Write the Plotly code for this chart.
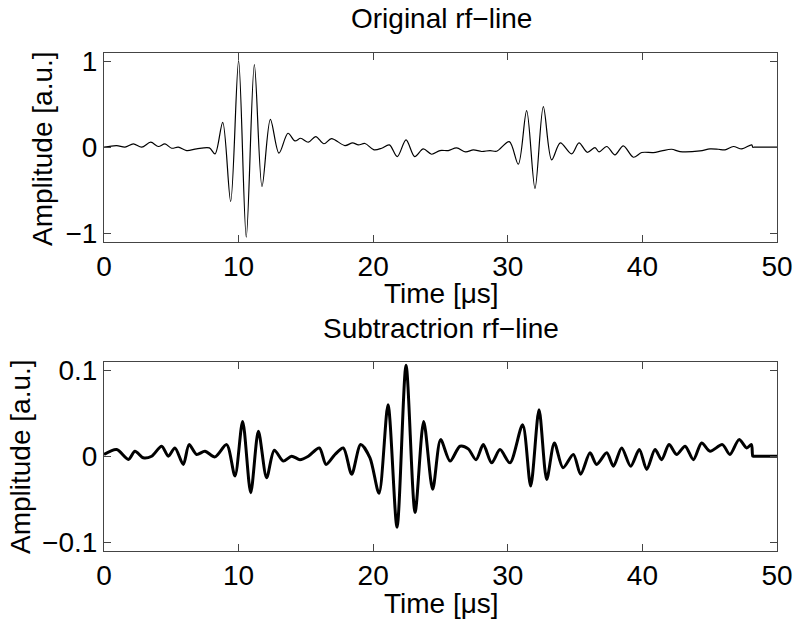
import plotly.graph_objects as go

# ---- data ----
orig_t = [0.0, 0.94, 1.56, 2.18, 2.80, 3.47, 4.04, 4.53, 5.03, 5.52, 6.14, 6.88, 7.83, 8.25,
          8.82, 9.41, 10.0, 10.57, 11.17, 11.74, 12.36, 13.0, 13.67, 14.19, 14.61, 15.18,
          15.73, 16.34, 16.9, 17.90, 18.47, 18.9, 19.39, 20.06, 20.63, 21.2, 21.79, 22.44,
          23.08, 23.72, 24.34, 24.96, 25.58, 26.2, 26.87, 27.44, 28.06, 28.68, 29.17, 30.11,
          30.78, 31.4, 32.02, 32.64, 33.26, 33.9, 34.74, 35.29, 35.91, 36.48, 36.78, 37.35,
          37.96, 38.58, 39.33, 39.95, 40.81, 41.43, 42.17, 42.79, 44.28, 45.02, 45.64, 46.14,
          46.76, 47.38, 48.12, 48.2, 48.3, 50.0]
orig_a = [0.0, 0.019, 0.0, 0.038, 0.0, 0.058, 0.008, 0.038, -0.012, 0.0, -0.039, -0.02, -0.008, -0.078,
          0.29, -0.632, 1.007, -1.047, 0.961, -0.458, 0.325, -0.07, 0.162, 0.073, 0.104, 0.058,
          0.124, 0.04, 0.10, 0.019, 0.05, 0.027, 0.043, -0.031, -0.012, 0.027, -0.109, 0.085,
          -0.109, -0.02, -0.082, -0.039, -0.039, -0.008, -0.055, -0.031, -0.05, -0.039, -0.047, 0.065,
          -0.198, 0.426, -0.481, 0.472, -0.148, 0.05, -0.078, 0.05, -0.059, -0.004, -0.055, 0.008,
          -0.089, 0.016, -0.117, -0.062, -0.062, -0.043, -0.024, -0.051, -0.043, -0.02, -0.024, -0.031,
          0.008, -0.02, 0.027, 0.0, 0.0, 0.0]

sub_t = [0.0, 0.94, 1.81, 2.3, 2.92, 3.54, 4.28, 4.78, 5.27, 5.89, 6.32, 6.88, 7.5, 8.25,
         9.11, 9.73, 10.3, 10.9, 11.47, 12.08, 12.65, 13.32, 13.94, 14.56, 15.18, 16.0,
         16.5, 17.16, 17.78, 18.4, 19.07, 19.76, 20.43, 21.1, 21.77, 22.44, 23.11, 23.75,
         24.42, 25.01, 25.71, 26.45, 27.06, 27.64, 28.18, 28.8, 29.42, 30.16, 31.1, 31.7,
         32.32, 32.89, 33.46, 34.1, 34.87, 35.41, 36.11, 36.6, 37.35, 37.85, 38.46, 39.13,
         39.77, 40.32, 40.94, 41.43, 41.98, 42.54, 43.17, 43.79, 44.4, 45.03, 45.94, 46.5,
         47.18, 47.75, 48.1, 48.2, 48.3, 50.0]
sub_a = [0.002, 0.0077, -0.0038, 0.0058, -0.0019, 0.0, 0.0116, 0.0, 0.0096, -0.0096, 0.0135, 0.002, 0.0058, -0.0008,
         0.0135, -0.023, 0.0405, -0.0424, 0.029, -0.025, 0.007, -0.0057, 0.0, -0.004, 0.0, 0.0096,
         -0.0096, 0.002, 0.0096, -0.021, 0.0135, -0.0019, -0.0431, 0.0598, -0.0828, 0.106, -0.0655, 0.0405,
         -0.0385, 0.0193, -0.0057, 0.0116, 0.0085, -0.004, 0.0135, -0.0077, 0.0077, -0.0077, 0.0366, -0.0347,
         0.054, -0.027, 0.0154, -0.0135, 0.002, -0.021, 0.0039, -0.0096, 0.0039, -0.0116, 0.0096, -0.0116,
         0.0077, -0.0154, 0.0077, -0.004, 0.0135, 0.002, 0.0116, -0.004, 0.0154, 0.0058, 0.0135, 0.002,
         0.0193, 0.0096, 0.0135, 0.0, 0.0, 0.0]

x_ticks = [0, 10, 20, 30, 40, 50]
top_ticks = [-1, 0, 1]
bot_ticks = [-0.1, 0, 0.1]

W, H = 800, 625
XL, XR = 104, 777
FONT = "Liberation Sans, Arial, sans-serif"
FS = 28
AXC = "#444444"

fig = go.Figure()
fig.add_trace(go.Scatter(x=orig_t, y=orig_a, mode="lines",
                         line=dict(color="black", width=1.2, shape="spline", smoothing=0.9),
                         xaxis="x", yaxis="y", showlegend=False))
fig.add_trace(go.Scatter(x=sub_t, y=sub_a, mode="lines",
                         line=dict(color="black", width=3.0, shape="spline", smoothing=0.8),
                         xaxis="x2", yaxis="y2", showlegend=False))

def ydom(top_px, bot_px):
    return [1 - bot_px / H, 1 - top_px / H]

axis_common = dict(showline=True, linecolor=AXC, linewidth=1, mirror="ticks", ticks="inside",
                   ticklen=7, tickcolor=AXC, showgrid=False, zeroline=False, automargin=False,
                   tickfont=dict(family=FONT, size=FS, color="black"))

fig.update_layout(
    width=W, height=H, plot_bgcolor="white", paper_bgcolor="white",
    margin=dict(l=XL, r=W - XR, t=0, b=0, autoexpand=False),
    font=dict(family=FONT, size=FS, color="black"),
    xaxis=dict(domain=[0, 1], range=[0, 50], tickvals=x_ticks, anchor="y", **axis_common),
    yaxis=dict(domain=ydom(52.7, 241.7), range=[-1.1, 1.1], tickvals=top_ticks, anchor="x", **axis_common),
    xaxis2=dict(domain=[0, 1], range=[0, 50], tickvals=x_ticks, anchor="y2", **axis_common),
    yaxis2=dict(domain=ydom(361.7, 550.7), range=[-0.11, 0.11], tickvals=bot_ticks, anchor="x2", **axis_common),
)

def ann_px(text, x_px, y_px, angle=0):
    fig.add_annotation(text=text, x=(x_px - XL) / (XR - XL), y=1 - y_px / H, xref="paper", yref="paper",
                       xanchor="center", yanchor="middle", showarrow=False, textangle=angle,
                       font=dict(family=FONT, size=FS, color="black"))

ann_px("Original rf\u2212line", 441, 19)
ann_px("Time [\u03bcs]", 441, 294)
ann_px("Subtractrion rf\u2212line", 441, 328)
ann_px("Time [\u03bcs]", 441, 603)
ann_px("Amplitude [a.u.]", 42, 148, -90)
ann_px("Amplitude [a.u.]", 20, 457, -90)

fig.write_html("out.html", config={"displayModeBar": False},
               post_script="document.body.style.margin='0';document.body.style.overflow='hidden';")
